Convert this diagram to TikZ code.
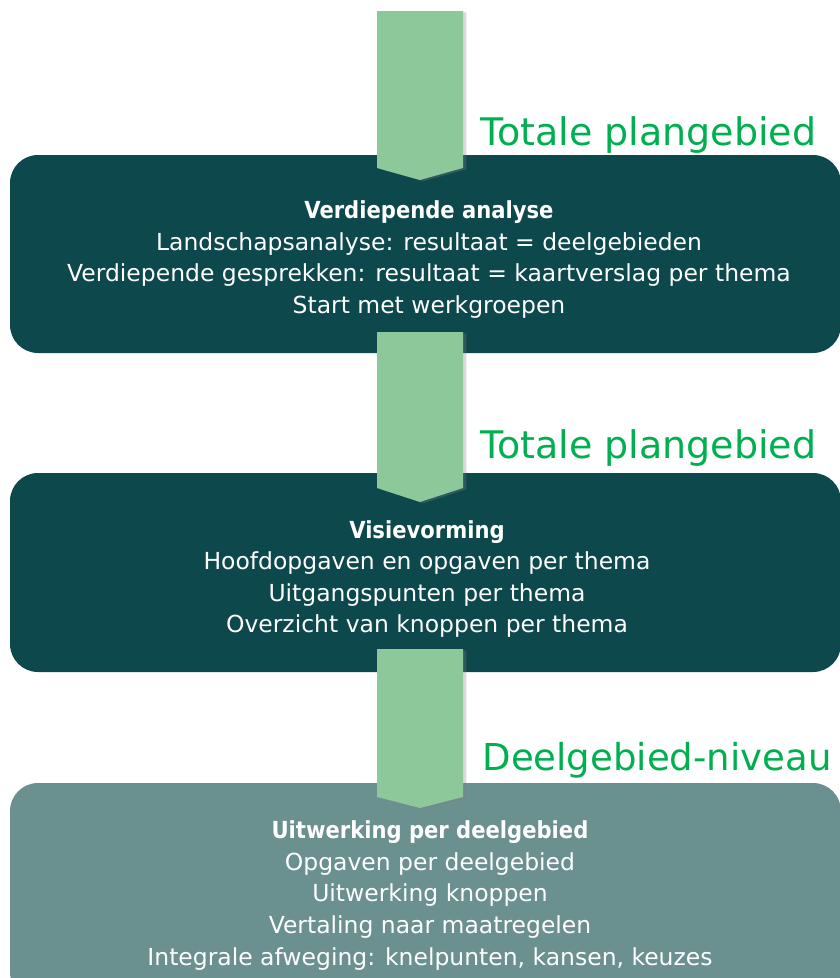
\documentclass[tikz,border=0pt]{standalone}
\usepackage{fontspec}
\setmainfont{DejaVu Sans}
\newfontfamily\headfont{DejaVu Sans Condensed}[BoldFont={DejaVu Sans Condensed Bold}]
\usetikzlibrary{shadows}

\definecolor{boxdark}{RGB}{12,72,76}
\definecolor{boxlight}{RGB}{107,144,144}
\definecolor{arrowgreen}{RGB}{141,200,154}
\definecolor{labelgreen}{RGB}{0,176,80}

\tikzset{every picture/.style={line width=0.75pt}}
\tikzset{
  stage/.style={draw=none, rounded corners=21pt},
  chevron/.style={fill=arrowgreen, draw=none, drop shadow={opacity=0.3, shadow xshift=2.5pt, shadow yshift=-1pt}},
  steptext/.style={text=white, align=center, font=\fontsize{17.6}{23.7}\selectfont},
  level/.style={text=labelgreen, anchor=base west, inner sep=0pt, font=\fontsize{28.5}{32}\selectfont},
}

\begin{document}
\begin{tikzpicture}[x=0.75pt,y=0.75pt,yscale=-1,xscale=1]
\useasboundingbox (0,0) rectangle (839,978);

%Rounded Rect [id:stage1] 
\fill [boxdark, stage] (10,155) rectangle (841,353) ;
%Rounded Rect [id:stage2] 
\fill [boxdark, stage] (10,473) rectangle (841,672) ;
%Rounded Rect [id:stage3] 
\fill [boxlight, stage] (10,783) rectangle (841,1000) ;

%Shape: Chevron [id:arrow1] 
\fill [chevron] (377,11) -- (463,11) -- (463,168) -- (420,180) -- (377,168) -- cycle ;
%Shape: Chevron [id:arrow2] 
\fill [chevron] (377,332) -- (463,332) -- (463,488) -- (420,502) -- (377,488) -- cycle ;
%Shape: Chevron [id:arrow3] 
\fill [chevron] (377,649) -- (463,649) -- (463,797) -- (420,808) -- (377,797) -- cycle ;

% Text Node
\node (level1) [level] at (480,145) {Totale plangebied};
% Text Node
\node (level2) [level] at (480,458) {Totale plangebied};
% Text Node
\node (level3) [level, font=\fontsize{27.8}{32}\selectfont] at (482,770) {Deelgebied-niveau};

% Text Node
\node (analyse) [steptext] at (429,259.5) {{\headfont\bfseries Verdiepende analyse}\\Landschapsanalyse: resultaat = deelgebieden\\Verdiepende gesprekken: resultaat = kaartverslag per thema\\Start met werkgroepen};
% Text Node
\node (visie) [steptext] at (427,579) {{\headfont\bfseries Visievorming}\\Hoofdopgaven en opgaven per thema\\Uitgangspunten per thema\\Overzicht van knoppen per thema};
% Text Node
\node (uitwerking) [steptext] at (430,895.5) {{\headfont\bfseries Uitwerking per deelgebied}\\Opgaven per deelgebied\\Uitwerking knoppen\\Vertaling naar maatregelen\\Integrale afweging: knelpunten, kansen, keuzes};

\end{tikzpicture}
\end{document}
